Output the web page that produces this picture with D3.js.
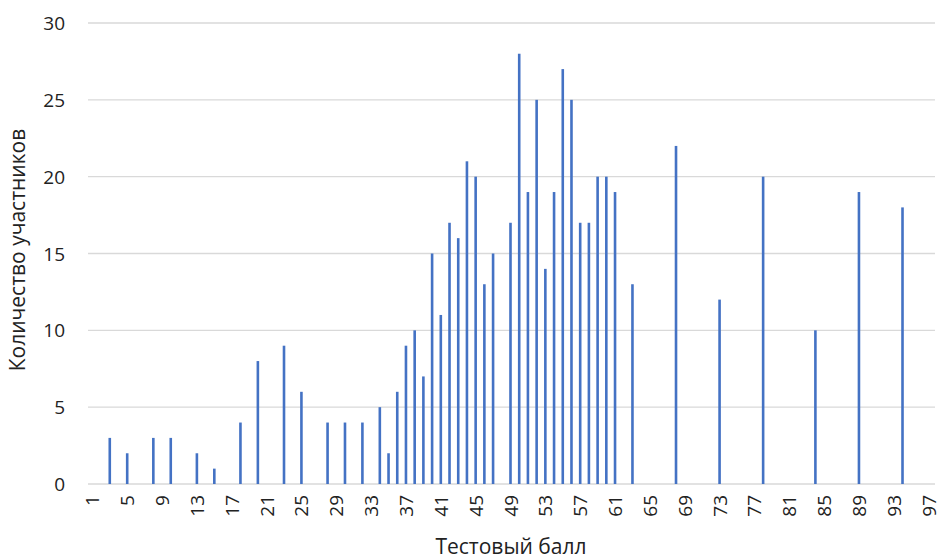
<!DOCTYPE html>
<html><head><meta charset="utf-8">
<script src="https://cdn.jsdelivr.net/npm/d3@7"></script>
<style>body{margin:0;background:#fff}svg{display:block}text{font-family:"Open Sans","Liberation Sans",sans-serif;fill:#222}</style>
</head><body><svg id="c" width="945" height="559"></svg>
<script>
const categories = d3.range(1, 98);
const scores = [3,5,8,10,13,15,18,20,23,25,28,30,32,34,35,36,37,38,39,40,41,42,43,44,45,46,47,49,50,51,52,53,54,55,56,57,58,59,60,61,63,68,73,78,84,89,94];
const counts = [3,2,3,3,2,1,4,8,9,6,4,4,4,5,2,6,9,10,7,15,11,17,16,21,20,13,15,17,28,19,25,14,19,27,25,17,17,20,20,19,13,22,12,20,10,19,18];
const yTicks = [0,5,10,15,20,25,30];
const xLabels = categories.filter(d => (d - 1) % 4 === 0);
const xTitle = "Тестовый балл";
const yTitle = "Количество участников";

const svg = d3.select("#c");
const L = 88, R = 933, T = 23, B = 484;
const x = d3.scaleBand().domain(categories).range([L, R]);
const y = d3.scaleLinear().domain([0, 30]).range([B, T]);

svg.append("g").selectAll("line").data(yTicks).join("line")
  .attr("x1", L).attr("x2", R + 2).attr("y1", d => y(d)).attr("y2", d => y(d))
  .attr("stroke", "#d9d9d9").attr("stroke-width", 1.3);

svg.append("g").selectAll("text").data(yTicks).join("text")
  .attr("x", 65).attr("y", d => y(d) + 7).attr("text-anchor", "end")
  .attr("font-size", 19).text(d => d);

const bw = 2.6;
svg.append("g").selectAll("rect").data(scores.map((s, i) => ({s, c: counts[i]}))).join("rect")
  .attr("x", d => x(d.s) + x.bandwidth() / 2 - bw / 2).attr("width", bw)
  .attr("y", d => y(d.c)).attr("height", d => B - y(d.c))
  .attr("fill", "#4472C4");

svg.append("g").selectAll("text").data(xLabels).join("text")
  .attr("transform", d => `translate(${x(d) + x.bandwidth() / 2 + 7},${495}) rotate(-90)`)
  .attr("text-anchor", "end").attr("font-size", 19).text(d => d);

svg.append("text").attr("x", 511).attr("y", 554).attr("text-anchor", "middle")
  .attr("font-size", 21).text(xTitle);
svg.append("text").attr("transform", "translate(25,250) rotate(-90)").attr("text-anchor", "middle")
  .attr("font-size", 21).text(yTitle);
</script></body></html>
